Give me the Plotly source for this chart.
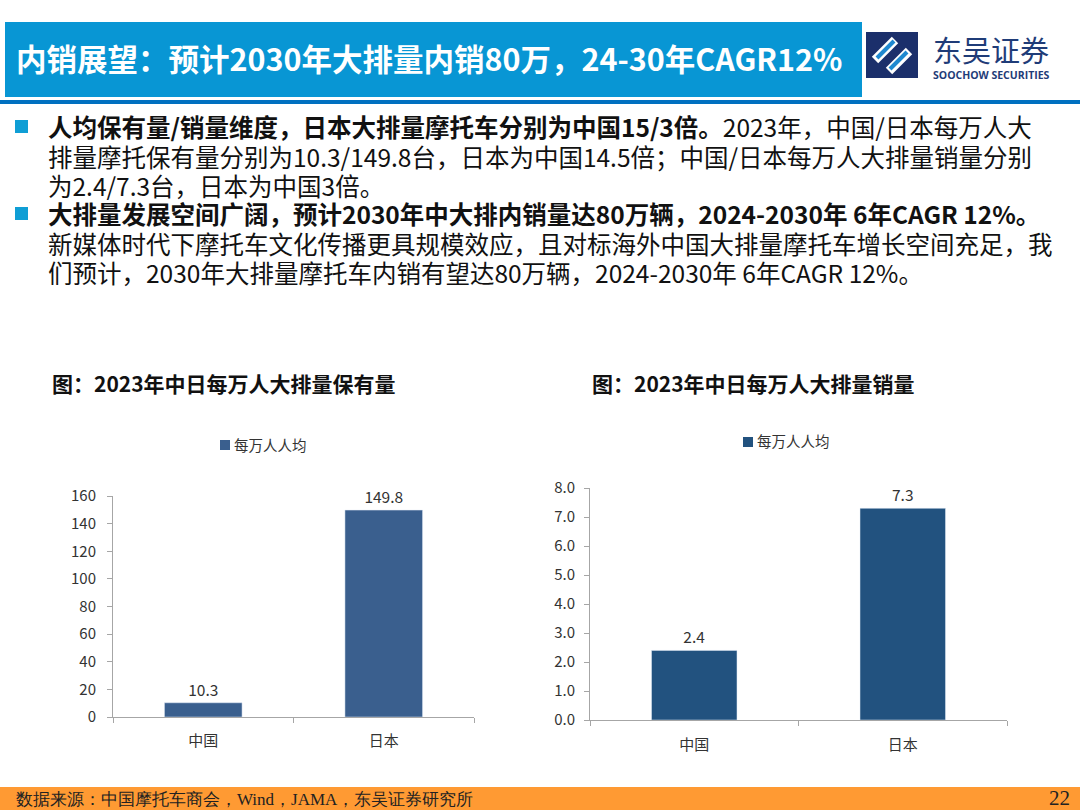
import plotly.graph_objects as go

# data
categories = ["中国", "日本"]
holdings_per_10k = [10.3, 149.8]
sales_per_10k = [2.4, 7.3]
series_name = "每万人人均"

W, H = 1080, 810


def px(x):
    return x / W


def py(y):
    return 1 - y / H


CJK = "Noto Sans CJK SC"
LEFT_COLOR = "#3A5F8E"
RIGHT_COLOR = "#22527F"

fig = go.Figure()

# left chart: ownership per 10k people
fig.add_trace(go.Bar(
    x=categories, y=holdings_per_10k, name=series_name,
    marker=dict(color=LEFT_COLOR), width=0.43,
    text=[f"{v:.1f}" for v in holdings_per_10k], textposition="outside",
    textfont=dict(size=15.5, color="#333333", family=CJK), cliponaxis=False,
    xaxis="x", yaxis="y", showlegend=False,
))

# right chart: sales per 10k people
fig.add_trace(go.Bar(
    x=categories, y=sales_per_10k, name=series_name,
    marker=dict(color=RIGHT_COLOR), width=0.41,
    text=[f"{v:.1f}" for v in sales_per_10k], textposition="outside",
    textfont=dict(size=15.5, color="#333333", family=CJK), cliponaxis=False,
    xaxis="x2", yaxis="y2", showlegend=False,
))

axis_common = dict(showline=True, linecolor="#A6A6A6", linewidth=1, ticks="outside",
                   tickcolor="#A6A6A6", ticklen=5, showgrid=False, zeroline=False,
                   automargin=False,
                   tickfont=dict(size=15, color="#333333", family=CJK))

fig.update_layout(
    width=W, height=H, margin=dict(l=0, r=0, t=0, b=0, autoexpand=False),
    paper_bgcolor="white", plot_bgcolor="white",
    font=dict(family=CJK, color="#222222"),
    showlegend=False,
    xaxis=dict(domain=[px(113), px(474)], anchor="y", tickson="boundaries",
               ticklabelstandoff=10, **axis_common),
    yaxis=dict(domain=[py(717), py(496)], anchor="x", range=[0, 160], dtick=20,
               ticklabelstandoff=8, **axis_common),
    xaxis2=dict(domain=[px(590), px(1007)], anchor="y2", tickson="boundaries",
                ticklabelstandoff=11, **axis_common),
    yaxis2=dict(domain=[py(720), py(488)], anchor="x2", range=[0, 8], dtick=1,
                tickformat=".1f", ticklabelstandoff=6, **axis_common),
)

shapes = [
    # title banner
    dict(type="rect", x0=px(5), x1=px(862), y0=py(97), y1=py(22),
         fillcolor="#0896D4", line_width=0),
    # rule under header
    dict(type="rect", x0=0, x1=1, y0=py(104), y1=py(100),
         fillcolor="#0070C0", line_width=0),
    # footer bar
    dict(type="rect", x0=0, x1=1, y0=0, y1=py(787),
         fillcolor="#FF9A33", line_width=0),
    # bullets
    dict(type="rect", x0=px(15), x1=px(28), y0=py(133), y1=py(120),
         fillcolor="#0F9ED5", line_width=0),
    dict(type="rect", x0=px(15), x1=px(28), y0=py(220), y1=py(207),
         fillcolor="#0F9ED5", line_width=0),
    # legend swatches
    dict(type="rect", x0=px(220), x1=px(230), y0=py(450), y1=py(440),
         fillcolor=LEFT_COLOR, line_width=0),
    dict(type="rect", x0=px(743), x1=px(753), y0=py(447), y1=py(437),
         fillcolor=RIGHT_COLOR, line_width=0),
    # logo mark
    dict(type="rect", x0=px(866), x1=px(918), y0=py(78), y1=py(32),
         fillcolor="#1B2F6B", line_width=0),
    dict(type="line", x0=px(875), x1=px(895), y0=py(60), y1=py(40),
         line=dict(color="white", width=9)),
    dict(type="line", x0=px(889), x1=px(909), y0=py(71), y1=py(51),
         line=dict(color="white", width=9)),
    dict(type="line", x0=px(877), x1=px(894), y0=py(58), y1=py(41),
         line=dict(color="#1E88D0", width=4)),
    dict(type="line", x0=px(890), x1=px(907), y0=py(69), y1=py(52),
         line=dict(color="#1E88D0", width=4)),
]

annotations = [
    dict(text="<b>内销展望：预计2030年大排量内销80万，24-30年CAGR12%</b>",
         x=px(14), y=py(58), xanchor="left", yanchor="middle",
         font=dict(size=30.5, color="white", family=CJK)),
    dict(text="东吴证券", x=px(991), y=py(49), xanchor="center", yanchor="middle",
         font=dict(size=29, color="#1F3C78", family=CJK)),
    dict(text="<b>SOOCHOW SECURITIES</b>", x=px(991), y=py(75), xanchor="center",
         yanchor="middle", font=dict(size=10.5, color="#1F3C78", family="Open Sans")),
    dict(text="<b>图：2023年中日每万人大排量保有量</b>", x=px(50), y=py(383),
         xanchor="left", yanchor="middle", font=dict(size=21, color="#111111", family=CJK)),
    dict(text="<b>图：2023年中日每万人大排量销量</b>", x=px(590), y=py(383),
         xanchor="left", yanchor="middle", font=dict(size=21, color="#111111", family=CJK)),
    dict(text=series_name, x=px(232), y=py(444), xanchor="left", yanchor="middle",
         font=dict(size=14.5, color="#333333", family=CJK)),
    dict(text=series_name, x=px(755), y=py(441), xanchor="left", yanchor="middle",
         font=dict(size=14.5, color="#333333", family=CJK)),
    dict(text="数据来源：中国摩托车商会，Wind，JAMA，东吴证券研究所", x=px(14), y=py(799),
         xanchor="left", yanchor="middle",
         font=dict(size=17, color="#222222", family="Liberation Sans Narrow")),
    dict(text="22", x=px(1072), y=py(798), xanchor="right", yanchor="middle",
         font=dict(size=21, color="#222222", family="Liberation Serif")),
]

body_lines = [
    "<b>人均保有量/销量维度，日本大排量摩托车分别为中国15/3倍。</b>2023年，中国/日本每万人大",
    "排量摩托保有量分别为10.3/149.8台，日本为中国14.5倍；中国/日本每万人大排量销量分别",
    "为2.4/7.3台，日本为中国3倍。",
    "<b>大排量发展空间广阔，预计2030年中大排内销量达80万辆，2024-2030年 6年CAGR 12%。</b>",
    "新媒体时代下摩托车文化传播更具规模效应，且对标海外中国大排量摩托车增长空间充足，我",
    "们预计，2030年大排量摩托车内销有望达80万辆，2024-2030年 6年CAGR 12%。",
]
line_y = [127, 156, 185, 214, 243, 272]
for txt, yy in zip(body_lines, line_y):
    annotations.append(dict(text=txt, x=px(46), y=py(yy), xanchor="left", yanchor="middle",
                            font=dict(size=24.5, color="#111111", family=CJK)))

for a in annotations:
    a.update(xref="paper", yref="paper", showarrow=False)
for s in shapes:
    s.update(xref="paper", yref="paper", layer="below")

fig.update_layout(shapes=shapes, annotations=annotations)

# drop the browser's default body margin so the 1080x810 figure fills the window
fig.write_html("out.html", config={"displayModeBar": False},
               post_script="document.body.style.margin='0';")
